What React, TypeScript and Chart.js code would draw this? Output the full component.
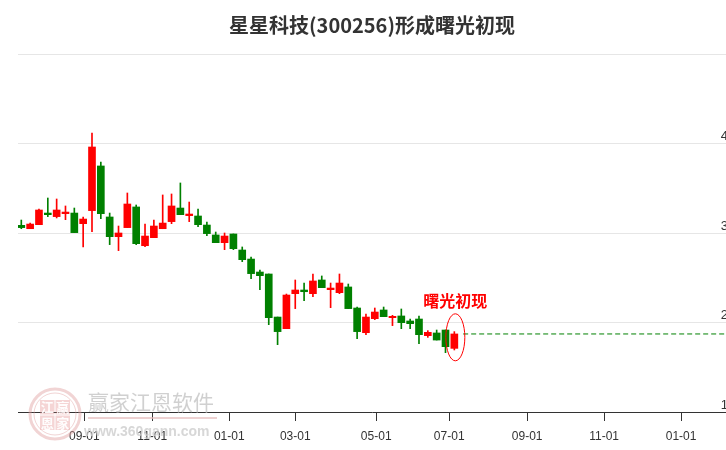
import React, { useEffect, useRef } from 'react';
import { Chart, registerables } from 'chart.js';

Chart.register(...registerables);

// ---- data (weekly candles, index = week number) ----
const openPrices = [
  3.086, 3.048, 3.093, 3.223, 3.183, 3.216, 3.223, 3.104, 3.25, 3.749,
  3.179, 2.959, 3.06, 3.291, 2.858, 2.948, 3.048, 3.127, 3.279, 3.194,
  3.19, 3.089, 2.978, 2.892, 2.989, 2.81, 2.709, 2.564, 2.542, 2.061,
  1.931, 2.322, 2.363, 2.322, 2.475, 2.367, 2.333, 2.397, 2.162, 1.886,
  2.043, 2.14, 2.054, 2.073, 2.017, 2.039, 1.853, 1.883, 1.916, 1.711,
];
const highPrices = [
  3.145, 3.111, 3.268, 3.391, 3.38, 3.302, 3.279, 3.179, 4.117, 3.793,
  3.223, 3.078, 3.447, 3.313, 3.1, 3.145, 3.425, 3.436, 3.559, 3.346,
  3.268, 3.123, 3.011, 3.0, 2.989, 2.844, 2.731, 2.587, 2.542, 2.061,
  2.318, 2.475, 2.441, 2.542, 2.52, 2.441, 2.542, 2.43, 2.173, 2.095,
  2.162, 2.173, 2.08, 2.151, 2.039, 2.073, 1.909, 1.916, 1.916, 1.898,
];
const lowPrices = [
  3.048, 3.048, 3.093, 3.183, 3.168, 3.149, 3.004, 2.844, 3.015, 3.16,
  2.87, 2.803, 3.06, 2.87, 2.847, 2.948, 3.048, 3.104, 3.205, 3.127,
  3.071, 2.97, 2.892, 2.814, 2.814, 2.68, 2.49, 2.367, 1.976, 1.752,
  1.931, 2.155, 2.244, 2.289, 2.389, 2.166, 2.322, 2.155, 1.819, 1.864,
  2.032, 2.065, 1.965, 1.931, 1.931, 1.763, 1.834, 1.804, 1.663, 1.693,
];
const closePrices = [
  3.06, 3.1, 3.257, 3.205, 3.257, 3.234, 3.004, 3.156, 3.961, 3.216,
  2.959, 3.0, 3.324, 2.881, 2.966, 3.078, 3.111, 3.302, 3.205, 3.212,
  3.093, 2.993, 2.892, 2.966, 2.825, 2.702, 2.546, 2.523, 2.054, 1.898,
  2.307, 2.363, 2.344, 2.464, 2.389, 2.385, 2.441, 2.155, 1.898, 2.061,
  2.117, 2.065, 2.069, 1.998, 1.987, 1.864, 1.89, 1.804, 1.73, 1.872,
];

// x-axis month ticks (positions in week units) and their labels
const xTickPositions = [7.13, 14.82, 23.53, 31.0, 40.16, 48.42, 57.24, 65.95, 74.66];
const xTickLabels = ['09-01', '11-01', '01-01', '03-01', '05-01', '07-01', '09-01', '11-01', '01-01'];
const xRange = [-0.373, 79.74];
const yRange = [1, 5];
const yTickValues = [1, 2, 3, 4, 5];

const titleText = '星星科技(300256)形成曙光初现';
const signalText = '曙光初现';
const signalIndex = 49;
const guideStart = 50;

const UP = '#ff0000';
const DOWN = '#008000';

const candleColors = closePrices.map((c, i) => (c >= openPrices[i] ? UP : DOWN));

const signalPlugin = {
  id: 'signalMark',
  afterDatasetsDraw(chart: any) {
    const { ctx, scales } = chart;
    const x = scales.x;
    const y = scales.y;
    const cx = x.getPixelForValue(signalIndex);
    const top = y.getPixelForValue(highPrices[signalIndex]);
    const bottom = y.getPixelForValue(lowPrices[signalIndex]);
    const cy = (top + bottom) / 2 - 3.5;
    const rx = 9.5;
    const ry = 23.5;
    ctx.save();
    ctx.beginPath();
    ctx.ellipse(cx + 1, cy, rx, ry, 0, 0, Math.PI * 2);
    ctx.strokeStyle = UP;
    ctx.lineWidth = 1;
    ctx.stroke();
    ctx.fillStyle = UP;
    ctx.font = 'bold 16px "Noto Sans CJK SC", sans-serif';
    ctx.textAlign = 'center';
    ctx.textBaseline = 'middle';
    ctx.fillText(signalText, cx + 1, cy - ry - 13);
    ctx.restore();
  },
};

const watermarkPlugin = {
  id: 'watermark',
  beforeDatasetsDraw(chart: any) {
    const { ctx } = chart;
    ctx.save();
    // stamp
    ctx.strokeStyle = 'rgba(225,160,160,0.45)';
    ctx.lineWidth = 3;
    ctx.beginPath();
    ctx.arc(55, 414, 25, 0, Math.PI * 2);
    ctx.stroke();
    ctx.lineWidth = 1;
    ctx.beginPath();
    ctx.arc(55, 414, 21, 0, Math.PI * 2);
    ctx.stroke();
    const chars = ['江', '赢', '恩', '家'];
    ctx.font = 'bold 13px "Noto Sans CJK SC", sans-serif';
    ctx.textAlign = 'center';
    ctx.textBaseline = 'middle';
    chars.forEach((ch, k) => {
      const bx = 40 + (k % 2) * 15.5;
      const by = 400 + Math.floor(k / 2) * 15.5;
      ctx.fillStyle = 'rgba(230,150,150,0.4)';
      ctx.fillRect(bx, by, 14.5, 14.5);
      ctx.fillStyle = 'rgba(255,255,255,0.95)';
      ctx.fillText(ch, bx + 7.25, by + 7.5);
    });
    // text
    ctx.fillStyle = 'rgba(200,200,200,0.85)';
    ctx.font = '21px "Noto Sans CJK SC", sans-serif';
    ctx.textAlign = 'left';
    ctx.fillText('赢家江恩软件', 88, 402);
    ctx.strokeStyle = 'rgba(230,190,190,0.7)';
    ctx.lineWidth = 2;
    ctx.beginPath();
    ctx.moveTo(88, 418);
    ctx.lineTo(217, 418);
    ctx.stroke();
    ctx.fillStyle = 'rgba(205,205,205,0.8)';
    ctx.font = 'bold 14px "Liberation Sans", sans-serif';
    ctx.fillText('www.360gann.com', 84, 432);
    ctx.restore();
  },
};

export default function App() {
  const canvasRef = useRef<HTMLCanvasElement | null>(null);

  useEffect(() => {
    const canvas = canvasRef.current;
    if (!canvas) return;
    const wicks = openPrices.map((_, i) => ({ x: i, y: [lowPrices[i], highPrices[i]] }));
    const bodies = openPrices.map((o, i) => ({ x: i, y: [o, closePrices[i]] }));
    const lastClose = closePrices[closePrices.length - 1];
    const chart = new Chart(canvas, {
      type: 'bar',
      data: {
        datasets: [
          {
            type: 'line',
            data: [
              { x: guideStart, y: lastClose },
              { x: xRange[1], y: lastClose },
            ],
            borderColor: DOWN,
            borderWidth: 1,
            borderDash: [5, 3],
            pointRadius: 0,
            order: 0,
          } as any,
          {
            data: bodies as any,
            backgroundColor: candleColors,
            borderWidth: 0,
            barThickness: 7,
            minBarLength: 1,
            grouped: false,
            order: 1,
          },
          {
            data: wicks as any,
            backgroundColor: candleColors,
            borderWidth: 0,
            barThickness: 1,
            minBarLength: 1,
            grouped: false,
            order: 2,
          },
        ],
      },
      options: {
        responsive: false,
        animation: false,
        events: [],
        layout: { padding: { left: 18, right: 0, top: 0, bottom: 0 } },
        plugins: {
          legend: { display: false },
          tooltip: { enabled: false },
          title: {
            display: true,
            text: titleText,
            color: '#333333',
            font: { size: 20, weight: 'bold', family: '"Noto Sans CJK SC", sans-serif' },
            padding: { top: 13, bottom: 17 },
          },
        },
        scales: {
          x: {
            type: 'linear',
            min: xRange[0],
            max: xRange[1],
            offset: false,
            afterBuildTicks: (scale: any) => {
              scale.ticks = xTickPositions.map((v) => ({ value: v }));
            },
            afterFit: (scale: any) => {
              scale.height = 38;
            },
            ticks: {
              autoSkip: false,
              maxRotation: 0,
              color: '#333333',
              padding: 8,
              font: { size: 12, family: '"Liberation Sans", Arial, sans-serif' },
              callback: (_v: any, idx: number) => xTickLabels[idx],
            },
            grid: {
              offset: false,
              drawOnChartArea: false,
              tickLength: 9,
              tickColor: '#333333',
              tickWidth: 1,
            },
            border: { display: true, color: '#333333', width: 1 },
          },
          y: {
            type: 'linear',
            position: 'right',
            min: yRange[0],
            max: yRange[1],
            afterBuildTicks: (scale: any) => {
              scale.ticks = yTickValues.map((v) => ({ value: v }));
            },
            afterFit: (scale: any) => {
              scale.width = 0;
            },
            ticks: {
              mirror: true,
              padding: 2,
              labelOffset: -7,
              color: '#333333',
              font: { size: 13, family: '"Liberation Sans", Arial, sans-serif' },
              callback: (v: any) => (v === yRange[1] ? '' : String(v)),
            },
            grid: { color: '#e6e6e6', drawTicks: false, lineWidth: 1 },
            border: { display: false },
          },
        },
      },
      plugins: [watermarkPlugin, signalPlugin],
    } as any);
    return () => chart.destroy();
  }, []);

  return (
    <div style={{ position: 'absolute', left: 0, top: 0, width: 726, height: 450, background: '#fff' }}>
      <canvas ref={canvasRef} width={726} height={450} />
    </div>
  );
}
